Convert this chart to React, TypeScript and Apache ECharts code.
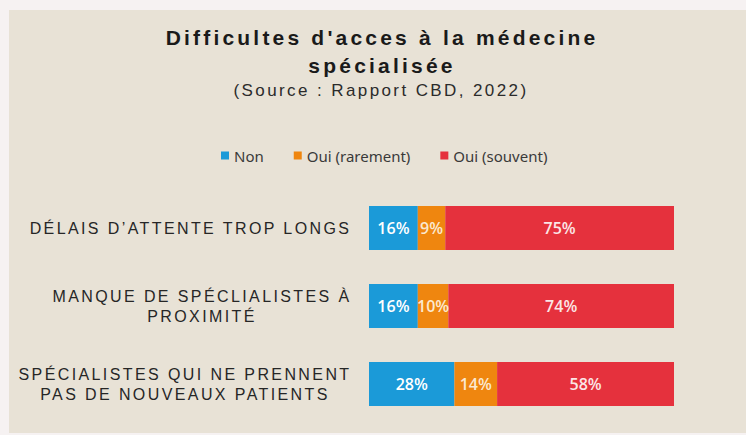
import React, { useEffect, useRef } from "react";
import * as echarts from "echarts";

const categories: string[] = [
  "DÉLAIS D’ATTENTE TROP LONGS",
  "MANQUE DE SPÉCLIALISTES À\nPROXIMITÉ",
  "SPÉCIALISTES QUI NE PRENNENT\nPAS DE NOUVEAUX PATIENTS",
];
const seriesNames: string[] = ["Non", "Oui (rarement)", "Oui (souvent)"];
const nonValues: number[] = [16, 16, 28];
const rarementValues: number[] = [9, 10, 14];
const souventValues: number[] = [75, 74, 58];

const titleText = "Difficultes d'acces à la médecine\nspécialisée";
const subtitleText = "(Source : Rapport CBD, 2022)";

const LABEL_FONT_FAMILY = "Liberation Sans";
const LABEL_FONT_SIZE = 16;
const LABEL_SPACING = 2.4;

const css = `
#chart text[style*="Liberation"][style*="21px"] { letter-spacing: 3.2px; }
#chart text[style*="Liberation"][style*="17px"] { letter-spacing: 2.4px; }
#chart text[style*="Liberation"][style*="${LABEL_FONT_SIZE}px"] { letter-spacing: ${LABEL_SPACING}px; }
`;

function measure(text: string, font: string): number {
  const ctx = document.createElement("canvas").getContext("2d");
  if (!ctx) return text.length * 9;
  ctx.font = font;
  return ctx.measureText(text).width;
}

export default function App() {
  const ref = useRef<HTMLDivElement>(null);

  useEffect(() => {
    if (!ref.current) return;
    const chart = echarts.init(ref.current, undefined, { renderer: "svg" });

    const font = `${LABEL_FONT_SIZE}px ${LABEL_FONT_FAMILY}`;
    const rich: Record<string, any> = {};
    categories.forEach((c, i) => {
      const w = Math.max(
        ...c.split("\n").map((l) => measure(l, font) + l.length * LABEL_SPACING)
      );
      rich["c" + i] = {
        width: Math.ceil(w),
        align: "center",
        fontSize: LABEL_FONT_SIZE,
        fontFamily: LABEL_FONT_FAMILY,
        lineHeight: 20,
        color: "#262626",
      };
    });

    const colors = ["#1b9ad8", "#ef860f", "#e5313d"];
    const labelColors = ["#ffffff", "#fbe9d0", "#fbe6e6"];
    const values = [nonValues, rarementValues, souventValues];

    chart.setOption({
      animation: false,
      backgroundColor: "#f6f2f2",
      color: colors,
      graphic: [
        {
          type: "rect",
          silent: true,
          z: -10,
          shape: { x: 9, y: 10, width: 737, height: 423 },
          style: { fill: "#e8e2d6" },
        },
      ],
      title: [
        {
          text: titleText,
          left: 382,
          top: 23,
          textAlign: "center",
          padding: 0,
          textStyle: {
            fontFamily: "Liberation Sans",
            fontWeight: "bold",
            fontSize: 21,
            lineHeight: 28,
            color: "#1a1a1a",
          },
        },
        {
          text: subtitleText,
          left: 381,
          top: 80,
          textAlign: "center",
          padding: 0,
          textStyle: {
            fontFamily: "Liberation Sans",
            fontWeight: "normal",
            fontSize: 17,
            lineHeight: 20,
            color: "#2b2b2b",
          },
        },
      ],
      legend: {
        data: seriesNames,
        left: 221,
        top: 148,
        icon: "rect",
        itemWidth: 8,
        itemHeight: 8,
        itemGap: 30,
        padding: 0,
        textStyle: {
          fontFamily: "Noto Sans",
          fontSize: 15,
          color: "#3a3a3a",
        },
      },
      grid: { left: 369, right: 72, top: 189, bottom: 12 },
      xAxis: {
        type: "value",
        min: 0,
        max: 100,
        show: false,
      },
      yAxis: {
        type: "category",
        data: categories,
        inverse: true,
        axisLine: { show: false },
        axisTick: { show: false },
        splitLine: { show: false },
        axisLabel: {
          margin: 17,
          formatter: (value: string, idx: number) => `{c${idx}|${value}}`,
          rich,
        },
      },
      series: seriesNames.map((name, i) => ({
        name,
        type: "bar",
        stack: "total",
        barWidth: 44,
        data: values[i],
        itemStyle: { color: colors[i] },
        label: {
          show: true,
          position: "inside",
          formatter: "{c}%",
          color: labelColors[i],
          fontFamily: "Open Sans",
          fontWeight: 600,
          fontSize: 16,
        },
      })),
    });

    return () => chart.dispose();
  }, []);

  return (
    <>
      <style>{css}</style>
      <div
        id="chart"
        ref={ref}
        style={{ position: "fixed", left: 0, top: 0, width: 746, height: 435 }}
      />
    </>
  );
}
